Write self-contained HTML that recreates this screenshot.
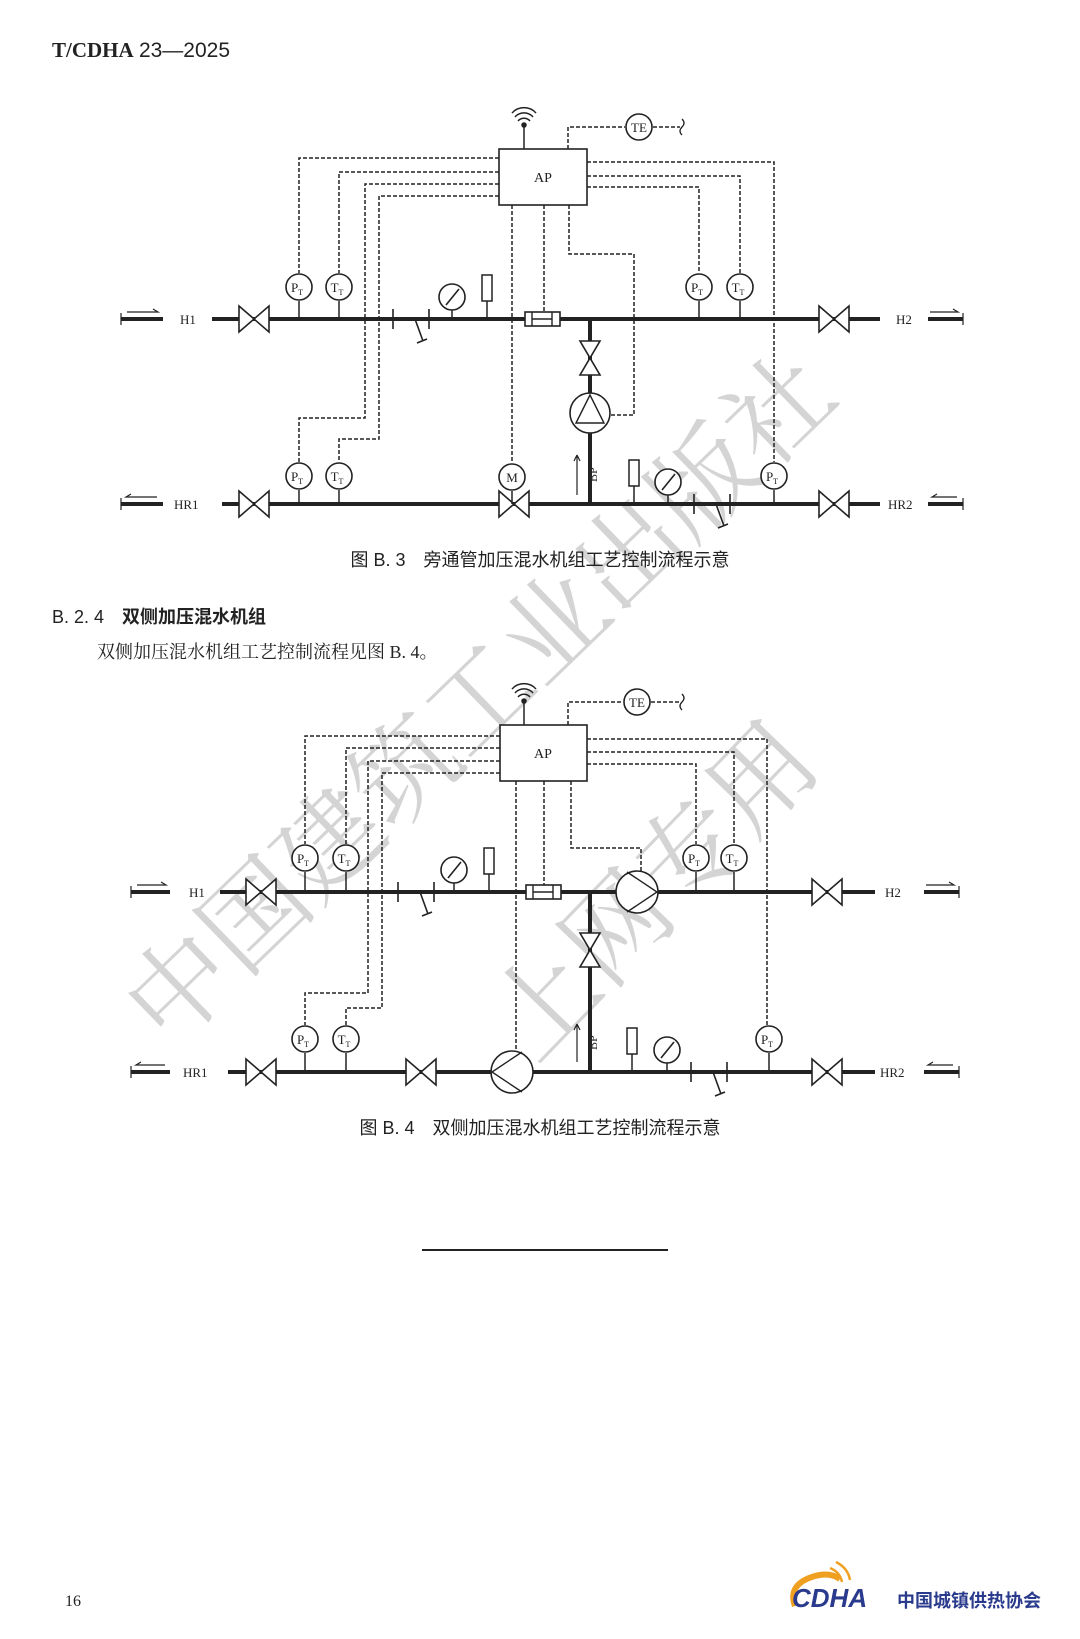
<!DOCTYPE html>
<html><head><meta charset="utf-8"><style>
html,body{margin:0;padding:0;background:#fff;}
body{width:1080px;height:1639px;position:relative;overflow:hidden;font-family:"Liberation Serif","Noto Serif CJK SC",serif;}
.t{position:absolute;white-space:nowrap;color:#222;}
</style></head><body>
<div class="t" style="left:52px;top:38px;font-size:21px;"><b>T/CDHA</b> <span style="font-family:'Liberation Sans',sans-serif">23—2025</span></div>

<svg width="1080" height="1639" style="position:absolute;left:0;top:0" font-family="Liberation Serif, serif">
<defs>
<g id="valve"><polygon points="-15,-13 15,13 15,-13 -15,13" fill="#fff" stroke="#222" stroke-width="1.6"/></g>
<g id="valveV"><polygon points="-10,-17 10,-17 -10,17 10,17" fill="#fff" stroke="#222" stroke-width="1.6"/></g>
<g id="gauge"><line x1="0" y1="0" x2="0" y2="20" stroke="#222" stroke-width="1.5"/><circle cx="0" cy="-2" r="13" fill="#fff" stroke="#222" stroke-width="1.6"/><line x1="-6" y1="6" x2="7" y2="-10" stroke="#222" stroke-width="1.6"/></g>
<g id="rect"><line x1="0" y1="0" x2="0" y2="18" stroke="#222" stroke-width="1.5"/><rect x="-5" y="-26" width="10" height="26" fill="#fff" stroke="#222" stroke-width="1.5"/></g>
<g id="strainer"><line x1="0" y1="-10" x2="0" y2="10" stroke="#222" stroke-width="1.6"/><line x1="36" y1="-10" x2="36" y2="10" stroke="#222" stroke-width="1.6"/><line x1="22" y1="0" x2="30" y2="22" stroke="#222" stroke-width="1.6"/><line x1="24" y1="24" x2="34" y2="20" stroke="#222" stroke-width="1.6"/></g>
<g id="flow"><rect x="-17" y="-7" width="35" height="14" fill="#fff" stroke="#222" stroke-width="1.6"/><line x1="-10" y1="-7" x2="-10" y2="7" stroke="#222" stroke-width="1.4"/><line x1="10" y1="-7" x2="10" y2="7" stroke="#222" stroke-width="1.4"/><line x1="-10" y1="0" x2="10" y2="0" stroke="#222" stroke-width="1.4"/></g>
<g id="antenna" fill="none" stroke="#222" stroke-width="1.5"><line x1="0" y1="0" x2="0" y2="-22"/><circle cx="0" cy="-24" r="2" fill="#222"/><path d="M-6,-28 A8,8 0 0 1 6,-28"/><path d="M-9,-32 A12,12 0 0 1 9,-32"/><path d="M-12,-36 A16,16 0 0 1 12,-36"/></g>
</defs>

<!-- watermark -->
<g font-family="Liberation Serif, Noto Serif CJK SC, serif" fill="#aaa" fill-opacity="0.5" font-size="104">
<text transform="translate(168,1050) rotate(-44)">中国建筑工业出版社</text>
<text transform="translate(535,1065) rotate(-46)">上网专用</text>
</g>

<!-- ================= FIGURE B.3 ================= -->
<g stroke="#222" fill="none" stroke-width="1.5" stroke-dasharray="4 2">
<path d="M499,158 H299 V273"/><path d="M499,172 H339 V273"/>
<path d="M499,184 H365 V418 H299 V462"/><path d="M499,196 H379 V439 H339 V462"/>
<path d="M587,162 H774 V462"/><path d="M587,176 H740 V273"/><path d="M587,187 H699 V273"/>
<path d="M512,205 V463"/><path d="M544,205 V312"/>
<path d="M569,205 V254 H634 V415 H611"/>
<path d="M568,149 V127 H625"/><path d="M653,127 H680"/>
</g>
<path d="M682,119 q4,4 0,8 q-4,4 0,8" stroke="#222" fill="none" stroke-width="1.3"/>
<line x1="121" y1="319" x2="163" y2="319" stroke="#222" stroke-width="4"/>
<line x1="212" y1="319" x2="880" y2="319" stroke="#222" stroke-width="4"/>
<line x1="928" y1="319" x2="963" y2="319" stroke="#222" stroke-width="4"/>
<line x1="121" y1="504" x2="163" y2="504" stroke="#222" stroke-width="4"/>
<line x1="222" y1="504" x2="880" y2="504" stroke="#222" stroke-width="4"/>
<line x1="928" y1="504" x2="963" y2="504" stroke="#222" stroke-width="4"/>
<line x1="590" y1="319" x2="590" y2="504" stroke="#222" stroke-width="4"/>
<g stroke="#222" stroke-width="1.2" fill="none"><path d="M121,313 V325 M127,312 H158 l-5,-3"/><path d="M963,313 V325 M930,312 H958 l-5,-3"/><path d="M121,498 V510 M157,497 H126 l5,-3"/><path d="M963,498 V510 M957,497 H932 l5,-3"/></g>
<g font-size="13" fill="#222"><text x="180" y="324">H1</text><text x="896" y="324">H2</text><text x="174" y="509">HR1</text><text x="888" y="509">HR2</text></g>
<use href="#valve" x="254" y="319"/><use href="#valve" x="834" y="319"/>
<use href="#valve" x="254" y="504"/><use href="#valve" x="834" y="504"/><use href="#valve" x="514" y="504"/>
<use href="#strainer" x="393" y="319"/><use href="#strainer" x="694" y="504"/>
<use href="#gauge" x="452" y="299"/><use href="#rect" x="487" y="301"/>
<use href="#flow" x="542" y="319"/>
<use href="#rect" x="634" y="486"/><use href="#gauge" x="668" y="484"/>
<use href="#valveV" x="590" y="358"/>
<circle cx="590" cy="413" r="20" fill="#fff" stroke="#222" stroke-width="1.6"/>
<path d="M576,423 L590,395 L604,423 Z" fill="none" stroke="#222" stroke-width="1.4"/>
<path d="M577,495 V455 l-3,6 M577,455 l3,6" stroke="#222" fill="none" stroke-width="1.2"/>
<text x="0" y="0" font-size="12" fill="#222" transform="translate(597,482) rotate(-90)">BP</text>
<g stroke="#222" stroke-width="1.5">
<line x1="299" y1="301" x2="299" y2="319"/><line x1="339" y1="301" x2="339" y2="319"/>
<line x1="699" y1="301" x2="699" y2="319"/><line x1="740" y1="301" x2="740" y2="319"/>
<line x1="299" y1="490" x2="299" y2="504"/><line x1="339" y1="490" x2="339" y2="504"/>
<line x1="774" y1="490" x2="774" y2="504"/><line x1="512" y1="491" x2="512" y2="504"/>
</g>
<g fill="#fff" stroke="#222" stroke-width="1.6">
<circle cx="299" cy="287" r="13"/><circle cx="339" cy="287" r="13"/><circle cx="699" cy="287" r="13"/><circle cx="740" cy="287" r="13"/>
<circle cx="299" cy="476" r="13"/><circle cx="339" cy="476" r="13"/><circle cx="774" cy="476" r="13"/><circle cx="512" cy="477" r="13"/>
<circle cx="639" cy="127" r="13"/>
</g>
<g font-size="13" fill="#222" text-anchor="middle">
<text x="297" y="292">P<tspan font-size="8" dy="3">T</tspan></text><text x="337" y="292">T<tspan font-size="8" dy="3">T</tspan></text>
<text x="697" y="292">P<tspan font-size="8" dy="3">T</tspan></text><text x="738" y="292">T<tspan font-size="8" dy="3">T</tspan></text>
<text x="297" y="481">P<tspan font-size="8" dy="3">T</tspan></text><text x="337" y="481">T<tspan font-size="8" dy="3">T</tspan></text>
<text x="772" y="481">P<tspan font-size="8" dy="3">T</tspan></text><text x="512" y="482">M</text>
<text x="639" y="132">TE</text>
</g>
<rect x="499" y="149" width="88" height="56" fill="#fff" stroke="#222" stroke-width="1.6"/>
<text x="543" y="182" font-size="14" text-anchor="middle" fill="#222">AP</text>
<use href="#antenna" x="524" y="149"/>

<!-- ================= FIGURE B.4 ================= -->
<g stroke="#222" fill="none" stroke-width="1.5" stroke-dasharray="4 2">
<path d="M500,736 H305 V844"/><path d="M500,748 H346 V844"/>
<path d="M500,761 H368 V993 H305 V1025"/><path d="M500,773 H382 V1008 H346 V1025"/>
<path d="M587,739 H767 V1025"/><path d="M587,752 H734 V844"/><path d="M587,764 H696 V844"/>
<path d="M516,781 V1051"/><path d="M544,781 V885"/>
<path d="M571,781 V848 H641 V871"/>
<path d="M568,725 V702 H623"/><path d="M651,702 H680"/>
</g>
<path d="M682,694 q4,4 0,8 q-4,4 0,8" stroke="#222" fill="none" stroke-width="1.3"/>
<line x1="131" y1="892" x2="170" y2="892" stroke="#222" stroke-width="4"/>
<line x1="220" y1="892" x2="875" y2="892" stroke="#222" stroke-width="4"/>
<line x1="924" y1="892" x2="959" y2="892" stroke="#222" stroke-width="4"/>
<line x1="131" y1="1072" x2="170" y2="1072" stroke="#222" stroke-width="4"/>
<line x1="228" y1="1072" x2="875" y2="1072" stroke="#222" stroke-width="4"/>
<line x1="924" y1="1072" x2="959" y2="1072" stroke="#222" stroke-width="4"/>
<line x1="590" y1="892" x2="590" y2="1072" stroke="#222" stroke-width="4"/>
<g stroke="#222" stroke-width="1.2" fill="none"><path d="M131,886 V898 M137,885 H166 l-5,-3"/><path d="M959,886 V898 M926,885 H954 l-5,-3"/><path d="M131,1066 V1078 M165,1065 H136 l5,-3"/><path d="M959,1066 V1078 M953,1065 H928 l5,-3"/></g>
<g font-size="13" fill="#222"><text x="189" y="897">H1</text><text x="885" y="897">H2</text><text x="183" y="1077">HR1</text><text x="880" y="1077">HR2</text></g>
<use href="#valve" x="261" y="892"/><use href="#valve" x="827" y="892"/>
<use href="#valve" x="261" y="1072"/><use href="#valve" x="827" y="1072"/><use href="#valve" x="421" y="1072"/>
<use href="#strainer" x="398" y="892"/><use href="#strainer" x="691" y="1072"/>
<use href="#gauge" x="454" y="872"/><use href="#rect" x="489" y="874"/>
<use href="#flow" x="543" y="892"/>
<use href="#rect" x="632" y="1054"/><use href="#gauge" x="667" y="1052"/>
<use href="#valveV" x="590" y="950"/>
<circle cx="637" cy="892" r="21" fill="#fff" stroke="#222" stroke-width="1.6"/>
<path d="M627,872 L657,892 L627,912" fill="none" stroke="#222" stroke-width="1.4"/>
<circle cx="512" cy="1072" r="21" fill="#fff" stroke="#222" stroke-width="1.6"/>
<path d="M522,1052 L492,1072 L522,1092" fill="none" stroke="#222" stroke-width="1.4"/>
<path d="M577,1062 V1024 l-3,6 M577,1024 l3,6" stroke="#222" fill="none" stroke-width="1.2"/>
<text x="0" y="0" font-size="12" fill="#222" transform="translate(597,1050) rotate(-90)">BP</text>
<g stroke="#222" stroke-width="1.5">
<line x1="305" y1="872" x2="305" y2="892"/><line x1="346" y1="872" x2="346" y2="892"/>
<line x1="696" y1="872" x2="696" y2="892"/><line x1="734" y1="872" x2="734" y2="892"/>
<line x1="305" y1="1053" x2="305" y2="1072"/><line x1="346" y1="1053" x2="346" y2="1072"/>
<line x1="769" y1="1053" x2="769" y2="1072"/>
</g>
<g fill="#fff" stroke="#222" stroke-width="1.6">
<circle cx="305" cy="858" r="13"/><circle cx="346" cy="858" r="13"/><circle cx="696" cy="858" r="13"/><circle cx="734" cy="858" r="13"/>
<circle cx="305" cy="1039" r="13"/><circle cx="346" cy="1039" r="13"/><circle cx="769" cy="1039" r="13"/>
<circle cx="637" cy="702" r="13"/>
</g>
<g font-size="13" fill="#222" text-anchor="middle">
<text x="303" y="863">P<tspan font-size="8" dy="3">T</tspan></text><text x="344" y="863">T<tspan font-size="8" dy="3">T</tspan></text>
<text x="694" y="863">P<tspan font-size="8" dy="3">T</tspan></text><text x="732" y="863">T<tspan font-size="8" dy="3">T</tspan></text>
<text x="303" y="1044">P<tspan font-size="8" dy="3">T</tspan></text><text x="344" y="1044">T<tspan font-size="8" dy="3">T</tspan></text>
<text x="767" y="1044">P<tspan font-size="8" dy="3">T</tspan></text>
<text x="637" y="707">TE</text>
</g>
<rect x="500" y="725" width="87" height="56" fill="#fff" stroke="#222" stroke-width="1.6"/>
<text x="543" y="758" font-size="14" text-anchor="middle" fill="#222">AP</text>
<use href="#antenna" x="524" y="725"/>

<line x1="422" y1="1250" x2="668" y2="1250" stroke="#222" stroke-width="2"/>

<!-- logo -->
<path d="M795,1606 q-8,-22 20,-30 q15,-4 25,3" fill="none" stroke="#f0a020" stroke-width="6"/>
<path d="M830,1568 q10,4 12,14 M836,1562 q12,6 14,18" fill="none" stroke="#f0a020" stroke-width="2.5"/>
<text x="792" y="1607" font-family="Liberation Sans, sans-serif" font-weight="bold" font-style="italic" font-size="26" fill="#2a3a8c">CDHA</text>
<text x="897" y="1607" font-family="Liberation Sans, Noto Sans CJK SC, sans-serif" font-weight="bold" font-size="18" fill="#2a3a8c">中国城镇供热协会</text>
</svg>

<div class="t" style="left:0;width:1080px;text-align:center;top:546px;font-size:18px;font-family:'Liberation Sans','Noto Sans CJK SC',sans-serif;">图 B. 3　旁通管加压混水机组工艺控制流程示意</div>
<div class="t" style="left:52px;top:603px;font-size:18px;font-family:'Liberation Sans','Noto Sans CJK SC',sans-serif;">B. 2. 4　<b>双侧加压混水机组</b></div>
<div class="t" style="left:97px;top:638px;font-size:18px;font-family:'Liberation Serif','Noto Serif CJK SC',serif;">双侧加压混水机组工艺控制流程见图 B. 4。</div>
<div class="t" style="left:0;width:1080px;text-align:center;top:1114px;font-size:18px;font-family:'Liberation Sans','Noto Sans CJK SC',sans-serif;">图 B. 4　双侧加压混水机组工艺控制流程示意</div>
<div class="t" style="left:65px;top:1593px;font-size:16px;">16</div>
</body></html>
